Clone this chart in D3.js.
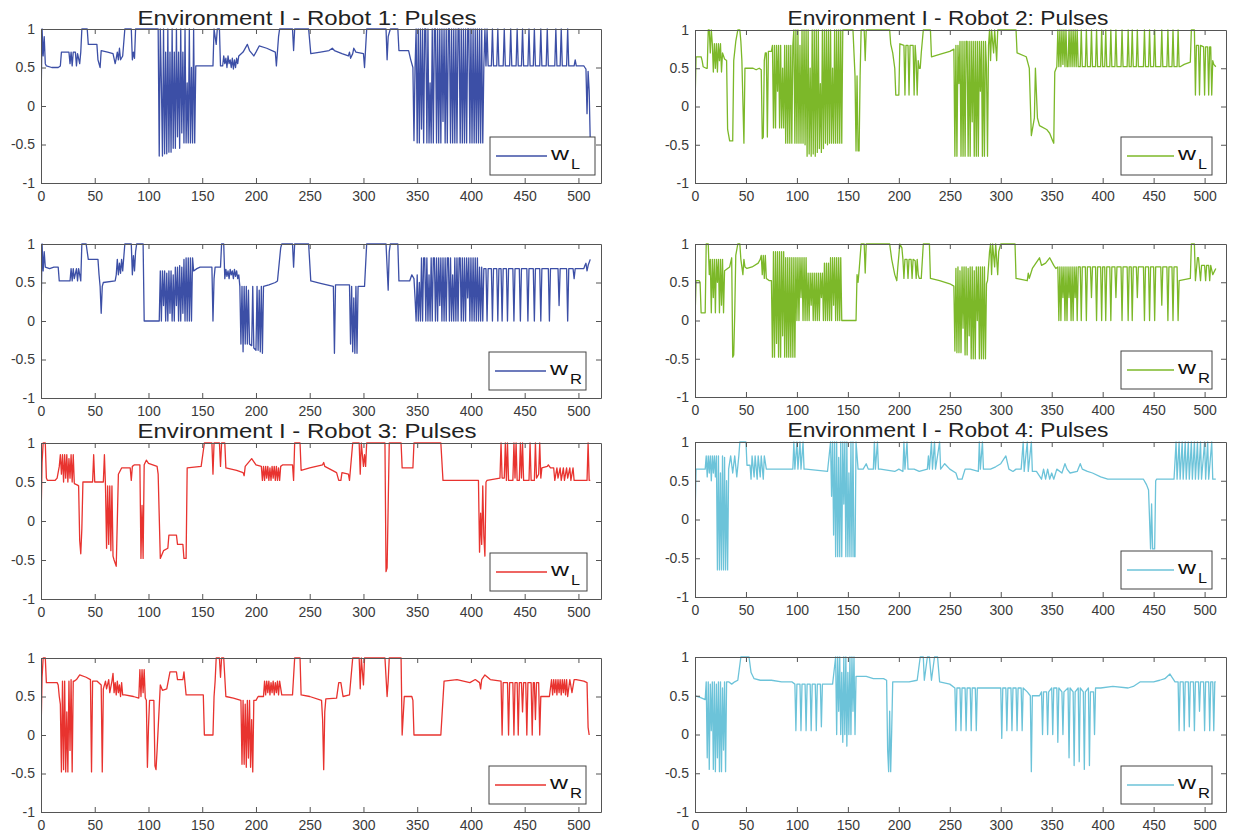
<!DOCTYPE html>
<html>
<head>
<meta charset="utf-8">
<script src="https://cdn.jsdelivr.net/npm/d3@7"></script>
<style>
  body { margin: 0; background: #fff; }
  svg text { font-family: "Liberation Sans", Arial, sans-serif; }
</style>
</head>
<body>
<div id="chart"></div>
<script>
// tick values
const xTicks = [0, 50, 100, 150, 200, 250, 300, 350, 400, 450, 500];
const yTicks = [-1, -0.5, 0, 0.5, 1];
const titles = ["Environment I - Robot 1: Pulses", "Environment I - Robot 2: Pulses",
                "Environment I - Robot 3: Pulses", "Environment I - Robot 4: Pulses"];

// Robot 1, left wheel
const r1L = [[0,0],[1,1],[2,0.65],[3,0.9],[4,0.55],[5,0.52],[10,0.5],[16,0.5],[18,0.52],[19,0.7],[26,0.7],[27,0.55],[28,0.7],[29,0.52],[30,0.7],[32,0.7],[33,0.52],[34,0.68],[36,0.55],[37,0.7],[38,1],[43,1],[44,0.8],[52,0.8],[53,0.6],[55,0.5],[56,0.72],[62,0.7],[67,0.68],[69,0.55],[70,0.62],[71,0.7],[72,0.6],[73,0.75],[74,0.6],[76,0.65],[78,1],[84,1],[85,0.6],[86,0.7],[87,0.62],[88,1],[109,1],
  [110,-0.65],[111,1],[112,0.3],[113,-0.65],[114,1],[115,-0.62],[116,0.7],[117,-0.62],[118,1],[119,-0.6],[120,0.7],[121,-0.6],[122,1],[123,-0.55],[124,0.7],[125,-0.55],[126,1],[127,-0.4],[128,0.7],[129,-0.55],[130,1],[131,-0.35],[132,0.7],[133,-0.48],[134,1],[135,-0.48],[136,0.3],[137,-0.48],[138,1],[139,-0.48],[140,0.5],[141,-0.48],[142,1],[143,-0.48],[144,0.52],[160,0.52],[161,1],[163,0.8],[164,1],[166,1],[167,0.52],[169,0.52],[170,0.65],[171,0.55],[172,0.62],[173,0.5],[174,0.65],[175,0.55],[176,0.6],[177,0.5],[178,0.62],[179,0.48],[180,0.6],[181,0.5],[182,0.62],[183,0.55],[184,0.65],[188,0.7],[192,0.8],[194,0.72],[198,0.65],[200,0.7],[203,0.78],[210,0.75],[218,0.7],[219,0.52],[221,0.9],[222,1],[234,1],[235,0.72],[236,1],[249,1],[251,0.68],[260,0.7],[268,0.72],[271,0.75],[273,0.72],[280,0.68],[286,0.65],[287,0.7],[288,0.62],[290,0.68],[291,0.75],[293,0.7],[300,0.68],[301,0.5],[303,1],[321,1],[322,0.6],[323,0.9],[325,1],[332,1],[333,0.72],[342,0.72],[344,0.6],[346,0.5],[347,-0.45],[348,0.5],
  [349,1],[350,-0.48],[351,1],[352,-0.48],[353,1],[354,-0.3],[355,1],[356,-0.48],[357,1],[358,1],[359,-0.48],[360,1],[361,-0.48],[362,0.3],[363,-0.48],[364,1],[365,-0.48],[366,1],[367,1],[368,-0.48],[369,1],[370,-0.48],[371,1],[372,-0.48],[373,1],[374,-0.2],[375,1],[376,-0.48],[377,1],[378,-0.48],[379,1],[380,1],[381,-0.48],[382,1],[383,-0.48],[384,1],[385,-0.48],[386,1],[387,-0.48],[388,1],[389,1],[390,-0.48],[391,1],[392,-0.48],[393,1],[394,-0.48],[395,1],[396,-0.48],[397,1],[398,1],[399,-0.48],[400,1],[401,-0.48],[402,1],[403,-0.48],[404,1],[405,-0.48],[406,1],[407,-0.48],[408,1],[409,-0.48],[410,1],[411,-0.48],[412,0.52],
  [413,1],[414,0.52],[415,1],[416,0.52],[419,0.52],[420,1],[421,0.52],[424,0.52],[425,1],[426,0.52],[430,0.52],[431,1],[432,0.52],[436,0.52],[437,1],[438,0.52],[442,0.52],[443,1],[444,0.52],[447,0.52],[448,1],[449,0.52],[453,0.52],[454,1],[455,0.52],[458,0.52],[459,1],[460,0.52],[464,0.52],[465,1],[466,0.52],[470,0.52],[471,1],[472,0.52],[478,0.52],[479,1],[480,0.52],[483,0.52],[484,1],[485,0.52],[489,0.52],[490,1],[491,0.52],[496,0.52],[497,0.6],[498,0.52],[505,0.52],[506,0.5],[507,0.48],[508,-0.1],[509,0.45],[510,0.2],[511,-0.45]];

// Robot 1, right wheel
const r1R = [[0,0],[1,1],[2,0.65],[3,0.9],[4,0.7],[8,0.68],[12,0.7],[16,0.7],[17,0.52],[27,0.52],[28,0.68],[29,0.52],[30,0.68],[31,0.55],[33,0.68],[34,0.52],[35,0.68],[37,0.52],[38,1],[42,1],[44,0.8],[53,0.8],[54,0.6],[55,0.45],[56,0.1],[57,0.45],[58,0.5],[69,0.52],[70,0.6],[71,0.8],[72,0.6],[73,0.75],[74,0.62],[75,0.8],[76,0.65],[78,1],[84,1],[85,0.6],[86,0.85],[87,0.65],[88,0.9],[89,1],[95,1],[96,0],[110,0],
  [111,0.65],[112,0],[113,0.65],[114,0.2],[115,0.65],[116,0],[117,0.62],[118,0],[119,0.65],[120,0.1],[121,0.65],[122,0],[123,0.6],[124,0],[125,0.7],[126,0.2],[127,0.7],[128,0],[129,0.72],[130,0],[131,0.7],[132,0.1],[133,0.8],[134,0],[135,0.82],[136,0],[137,0.82],[138,0],[139,0.82],[140,0],[141,0.82],[142,0.65],[145,0.68],[148,0.7],[159,0.7],[160,0],[161,0.55],[162,0.7],[167,0.7],[168,1],[170,1],[171,0.55],[172,0.67],[173,0.58],[174,0.65],[175,0.55],[176,0.67],[177,0.6],[178,0.65],[179,0.55],[180,0.67],[181,0.58],[182,0.65],[183,0.55],[184,0.6],[185,0.45],[186,-0.3],[187,0.45],[188,-0.4],[189,0.45],[190,-0.3],[191,0.45],[192,-0.3],[193,0.4],[194,-0.3],[196,-0.32],[197,0.45],[198,-0.35],[200,-0.38],[201,0.45],[202,-0.38],[203,0.4],[204,-0.4],[205,0.45],[206,-0.42],[207,0.45],[212,0.47],[218,0.5],[220,0.52],[223,0.95],[224,1],[234,1],[235,0.7],[236,1],[249,1],[251,0.52],[260,0.49],[272,0.45],[273,-0.42],[274,0.47],[287,0.47],[288,-0.3],[289,0.45],[290,-0.4],[291,0.3],[292,-0.42],[293,0.45],[294,-0.42],[295,0.45],[301,0.45],[303,1],[321,1],[323,0.4],[324,0.9],[325,1],[332,1],[333,0.52],[343,0.52],[345,0.6],[347,0.55],[348,0.3],[349,0],
  [350,0.6],[351,0],[352,0.5],[353,0],[354,0.82],[355,0],[356,0.82],[357,0.82],[358,0],[359,0.82],[360,0],[361,0.6],[362,0],[363,0.82],[364,0],[365,0.82],[366,0.82],[367,0],[368,0.82],[369,0],[370,0.82],[371,0.2],[372,0.82],[373,0],[374,0.82],[375,0],[376,0.82],[377,0],[378,0.82],[379,0.82],[380,0],[381,0.82],[382,0],[383,0.6],[384,0],[385,0.82],[386,0],[387,0.82],[388,0],[389,0.82],[390,0.82],[391,0],[392,0.82],[393,0],[394,0.82],[395,0],[396,0.82],[397,0.3],[398,0.82],[399,0],[400,0.82],[401,0],[402,0.82],[403,0],[404,0.82],[405,0],[406,0.82],[407,0],[408,0.7],[409,0],[410,0.7],[411,0],[412,0.68],
  [414,0.68],[415,0],[416,0.68],[419,0.68],[420,0],[421,0.68],[424,0.68],[425,0],[426,0.68],[428,0.68],[429,0],[430,0.68],[433,0.68],[434,0],[435,0.68],[439,0.68],[440,0],[441,0.68],[445,0.68],[446,0],[447,0.68],[452,0.68],[453,0],[454,0.68],[458,0.68],[459,0],[460,0.68],[464,0.68],[465,0],[466,0.68],[472,0.68],[473,0],[474,0.68],[481,0.68],[482,0.2],[483,0.68],[489,0.68],[490,0],[491,0.68],[495,0.68],[496,0.55],[497,0.68],[505,0.68],[506,0.72],[507,0.75],[508,0.65],[509,0.72],[511,0.8]];

// Robot 2, left wheel
const r2L = [[0,0],[1,0.65],[6,0.65],[7,0.6],[8,0.52],[11,0.5],[12,0.5],[13,1],[14,1],[15,0.7],[16,1],[17,0.82],[18,0.45],[19,0.82],[20,0.5],[21,0.82],[22,0.45],[23,0.82],[24,0.6],[25,0.82],[26,0.45],[27,0.7],[29,0.62],[31,0.6],[32,-0.3],[34,-0.45],[37,-0.45],[38,0.6],[40,0.85],[42,1],[44,1],[45,0.85],[46,0.6],[48,-0.48],[49,0.5],[50,0.5],[57,0.5],[60,0.48],[63,0.5],[65,0.48],[66,-0.42],[67,-0.4],[68,0.6],[69,0.7],[70,0.7],[71,-0.4],[72,0.72],[75,0.72],[76,0.8],
  [77,-0.28],[78,0.8],[79,-0.28],[80,0.8],[81,0.2],[82,0.8],[83,-0.28],[84,0.8],[85,-0.28],[86,0.5],[87,-0.28],[88,0.8],[89,-0.48],[90,0.8],[91,-0.48],[92,0.8],[93,-0.48],[94,0.8],[95,-0.48],[96,0.8],[97,1],
  [98,-0.48],[99,1],[100,-0.48],[101,1],[102,-0.48],[103,0.8],[104,-0.48],[105,1],[106,-0.48],[107,1],[108,-0.5],[109,1],[110,-0.65],[111,1],[112,-0.62],[113,0.5],[114,-0.65],[115,1],[116,-0.62],[117,1],[118,-0.65],[119,1],[120,-0.6],[121,1],[122,-0.55],[123,0.3],[124,-0.6],[125,1],[126,-0.55],[127,1],[128,-0.48],[129,1],[130,-0.5],[131,1],[132,-0.48],[133,1],[134,-0.48],[135,0.5],[136,-0.48],[137,1],[138,-0.48],[139,1],[140,-0.48],[141,1],[142,-0.48],[143,1],[144,-0.48],[145,1],[155,1],[156,0.7],[157,0.4],[158,-0.58],[159,0.4],[160,-0.58],[161,-0.58],[162,0.4],[163,1],[166,1],[167,0.6],[168,1],[191,1],[192,0.82],[194,0.7],[196,0.5],[197,0.15],[200,0.15],[201,0.82],[205,0.8],[206,0.15],[207,0.8],[209,0.8],[210,0.15],[211,0.8],[214,0.8],[215,0.15],[216,0.8],[217,0.6],[218,0.15],[219,0.6],[220,0.5],[221,0.5],[222,0.7],[224,1],[231,1],[232,0.65],[240,0.68],[250,0.72],[254,0.75],
  [255,-0.65],[256,0.8],[257,-0.65],[258,0.8],[259,0.3],[260,0.85],[261,-0.65],[262,0.85],[263,-0.65],[264,0.85],[265,-0.65],[266,0.85],[267,0.85],[268,-0.65],[269,0.85],[270,-0.65],[271,0.85],[272,-0.2],[273,0.85],[274,-0.65],[275,0.85],[276,-0.65],[277,0.85],[278,-0.65],[279,0.85],[280,0.2],[281,0.85],[282,-0.65],[283,0.85],[284,-0.65],[285,0.85],[286,0.5],[287,-0.65],[288,0.8],[289,1],[290,0.6],[291,1],[293,0.7],[294,1],[296,0.6],[297,1],[302,1],[315,1],[316,0.7],[325,0.65],[327,0.55],[328,0.5],[330,-0.38],[333,-0.15],[334,0.5],[336,-0.15],[338,-0.25],[345,-0.3],[348,-0.35],[351,-0.45],[352,-0.48],[353,0.45],[355,0.52],
  [356,1],[357,0.52],[358,1],[359,0.52],[360,1],[361,0.55],[362,1],[363,0.52],[364,1],[365,0.52],[366,0.52],[367,1],[368,0.52],[369,1],[370,0.52],[371,1],[372,0.52],[373,1],[374,0.52],[375,1],[376,0.52],[378,0.52],[379,1],[380,0.52],[383,0.52],[384,1],[385,0.52],[388,0.52],[389,1],[390,0.52],[393,0.52],[394,1],[395,0.52],[398,0.52],[399,1],[400,0.52],[402,0.52],[403,1],[404,0.52],[407,0.52],[408,1],[409,0.52],[412,0.52],[413,1],[414,0.52],[418,0.52],[419,1],[420,0.52],[424,0.52],[425,1],[426,0.52],[428,0.52],[429,1],[430,0.52],[433,0.52],[434,1],[435,0.52],[440,0.52],[441,1],[442,0.52],[445,0.52],[446,1],[447,0.52],[450,0.52],[451,1],[452,0.52],[457,0.52],[458,1],[459,0.52],[463,0.52],[464,1],[465,0.52],[468,0.52],[469,1],[470,0.52],[473,0.52],[474,1],[475,0.52],[476,0.52],[480,0.55],[486,0.58],[487,1],[490,1],[491,0.15],[492,0.8],[494,0.8],[495,0.15],[496,0.8],[499,0.78],[500,0.15],[501,0.78],[503,0.78],[504,0.15],[505,0.78],[506,0.78],[507,0.15],[508,0.6],[509,0.55],[511,0.52]];

// Robot 2, right wheel
const r2R = [[0,0],[1,0.52],[4,0.52],[5,0.5],[6,0.1],[10,0.1],[11,1],[13,1],[14,0.6],[15,0.8],[16,0.1],[17,0.8],[18,0.3],[19,0.8],[20,0.1],[21,0.8],[22,0.5],[23,0.8],[24,0.1],[25,0.8],[26,0.2],[27,0.8],[28,0.1],[29,0.65],[32,0.68],[34,0.7],[36,0.82],[37,-0.48],[38,-0.45],[39,0.1],[40,0.85],[42,1],[44,1],[45,0.8],[47,0.6],[48,0.8],[49,0.7],[51,0.68],[56,0.7],[62,0.75],[64,0.8],[65,0.85],[66,0.6],[67,0.85],[68,0.55],[69,0.85],[70,0.55],[73,0.52],[75,0.52],
  [76,-0.48],[77,0.9],[78,-0.48],[79,0.9],[80,-0.3],[81,0.9],[82,-0.48],[83,0.9],[84,-0.48],[85,0.9],[86,-0.2],[87,0.9],[88,-0.48],[89,0.82],[90,-0.48],[91,0.82],[92,-0.48],[93,0.82],[94,-0.48],[95,0.82],[96,-0.48],[97,0.82],[98,-0.48],[99,0.82],
  [100,0],[101,0.82],[102,0],[103,0.82],[104,0.3],[105,0.82],[106,0],[107,0.82],[108,0],[109,0.82],[110,0],[111,0.62],[112,0],[113,0.62],[114,0.2],[115,0.62],[116,0],[117,0.62],[118,0],[119,0.62],[120,0],[121,0.62],[122,0],[123,0.62],[124,0.3],[125,0.62],[126,0],[127,0.75],[128,0],[129,0.75],[130,0],[131,0.75],[132,0],[133,0.82],[134,0],[135,0.82],[136,0.2],[137,0.82],[138,0],[139,0.82],[140,0],[141,0.82],[142,0],[143,0.82],[144,0],[158,0],[159,0.6],[160,0.5],[161,0.65],[163,1],[166,1],[167,0.62],[168,1],[191,1],[193,0.8],[196,0.6],[198,0.52],[199,0.7],[201,1],[203,0.95],[204,0.8],[205,0.55],[206,0.8],[208,0.8],[209,0.55],[210,0.8],[212,0.8],[213,0.55],[214,0.8],[216,0.78],[217,0.55],[218,0.8],[219,0.6],[220,0.55],[222,0.55],[224,1],[230,1],[231,0.55],[240,0.52],[250,0.48],[254,0.45],
  [255,-0.4],[256,0.68],[257,-0.42],[258,0.7],[259,-0.42],[260,0.65],[261,-0.42],[262,0.7],[263,-0.1],[264,0.7],[265,-0.45],[266,0.7],[267,-0.45],[268,0.68],[269,-0.2],[270,0.7],[271,-0.5],[272,0.7],[273,-0.5],[274,0.65],[275,-0.5],[276,0.7],[277,0],[278,0.7],[279,-0.5],[280,0.7],[281,-0.5],[282,0.7],[283,-0.5],[284,0.7],[285,-0.5],[286,0.48],[287,0.52],[289,0.9],[290,1],[291,0.6],[292,1],[294,0.7],[295,1],[297,0.6],[298,0.9],[300,1],[302,1],[314,1],[315,0.55],[326,0.52],[327,0.62],[328,0.55],[331,0.68],[338,0.82],[340,0.72],[344,0.75],[348,0.82],[352,0.72],[354,0.68],[356,0.7],
  [357,0],[358,0.7],[359,0],[360,0.7],[361,0.3],[362,0.7],[363,0],[364,0.7],[365,0],[366,0.7],[367,0.3],[368,0.7],[369,0],[370,0.7],[371,0],[372,0.7],[373,0.3],[374,0.7],[375,0],[376,0.7],[378,0.7],[379,0],[380,0.7],[383,0.7],[384,0],[385,0.7],[388,0.7],[389,0.3],[390,0.7],[393,0.7],[394,0],[395,0.7],[398,0.7],[399,0],[400,0.7],[402,0.7],[403,0],[404,0.7],[407,0.7],[408,0],[409,0.7],[412,0.7],[413,0.3],[414,0.7],[418,0.7],[419,0],[420,0.7],[424,0.7],[425,0],[426,0.7],[428,0.7],[429,0],[430,0.7],[433,0.7],[434,0.3],[435,0.7],[440,0.7],[441,0],[442,0.7],[445,0.7],[446,0],[447,0.7],[450,0.7],[451,0],[452,0.7],[457,0.7],[458,0.2],[459,0.7],[463,0.7],[464,0],[465,0.7],[468,0.7],[469,0],[470,0.7],[473,0.7],[474,0],[475,0.52],[486,0.55],[487,1],[490,1],[491,0.52],[493,0.82],[494,0.82],[496,0.52],[497,0.72],[500,0.72],[501,0.52],[502,0.72],[504,0.72],[505,0.52],[506,0.72],[508,0.6],[511,0.68]];

// Robot 3, left wheel
const r3L = [[0,0],[1,0.75],[2,1],[4,1],[5,0.55],[6,0.52],[13,0.52],[15,0.55],[17,0.7],[18,0.85],[19,0.6],[20,0.85],[21,0.5],[22,0.85],[23,0.55],[24,0.85],[25,0.5],[26,0.8],[27,0.55],[28,0.85],[29,0.5],[30,0.85],[31,0.48],[34,0.46],[35,0.45],[36,-0.25],[37,-0.42],[38,-0.1],[39,0.5],[48,0.5],[49,0.85],[50,0.5],[58,0.5],[59,0.85],[60,0.45],[61,-0.35],[62,0.45],[63,-0.3],[64,0.45],[65,-0.38],[66,0.45],[67,-0.45],[68,-0.5],[70,-0.58],[72,0.6],[75,0.68],[83,0.68],[84,0.52],[85,0.7],[87,0.72],[92,0.72],[93,-0.48],[94,0.2],[95,-0.48],[96,0.72],[98,0.78],[100,0.74],[104,0.72],[108,0.7],[109,0.6],[111,-0.48],[114,-0.38],[118,-0.35],[119,-0.18],[126,-0.18],[127,-0.3],[132,-0.3],[133,-0.48],[135,-0.48],[136,0.68],[149,0.7],[152,1],[159,1],[160,0.6],[161,1],[166,1],[167,0.7],[168,1],[171,1],[172,0.68],[182,0.65],[188,0.62],[189,0.58],[190,0.7],[196,0.8],[200,0.72],[205,0.7],[206,0.52],[207,0.7],[208,0.52],[209,0.7],[210,0.55],[211,0.7],[212,0.52],[213,0.68],[214,0.52],[215,0.7],[216,0.55],[217,0.7],[218,0.52],[219,0.7],[220,0.52],[221,0.68],[222,0.52],[223,0.7],[225,0.72],[234,0.72],[235,0.52],[236,1],[241,1],[242,0.65],[250,0.68],[262,0.72],[263,0.75],[264,0.7],[275,0.62],[277,0.52],[279,0.52],[280,0.62],[286,0.6],[287,0.52],[290,1],[296,1],[297,0.6],[298,1],[300,0.7],[301,0.85],[302,0.7],[303,1],[320,1],[321,-0.65],[322,-0.6],[324,1],[335,1],[336,0.68],[346,0.68],[347,1],[372,1],[374,0.52],[407,0.52],[408,-0.4],[409,0.1],[410,-0.3],[411,0.45],[412,-0.2],[413,-0.45],[414,0.5],[415,0.52],[427,0.55],[428,1],[429,0.55],[431,0.55],[432,1],[433,0.52],[434,1],[435,0.52],[439,0.52],[440,1],[441,0.55],[442,1],[443,0.52],[445,0.52],[446,1],[447,0.55],[448,1],[449,0.52],[454,0.52],[455,1],[456,0.52],[459,0.52],[460,1],[461,0.55],[463,0.6],[464,1],[465,0.55],[466,0.68],[471,0.7],[472,0.72],[474,0.68],[477,0.68],[478,0.52],[480,0.68],[481,0.55],[483,0.68],[484,0.52],[486,0.68],[487,0.52],[489,0.68],[490,0.55],[492,0.68],[493,0.52],[495,0.68],[496,0.52],[498,0.52],[508,0.52],[509,1],[510,0.52],[511,0.52]];

// Robot 3, right wheel
const r3R = [[0,0],[1,0.75],[2,1],[4,1],[5,0.68],[15,0.68],[16,0.65],[17,0.5],[18,0.4],[19,-0.48],[20,0.7],[21,-0.45],[22,0.7],[23,-0.48],[24,0.3],[25,-0.48],[26,0.7],[27,-0.2],[28,0.72],[29,-0.48],[30,0.7],[31,0.7],[33,0.72],[36,0.78],[42,0.75],[46,0.72],[47,-0.48],[48,0.7],[52,0.7],[56,0.65],[57,-0.48],[58,0.6],[60,0.7],[61,0.6],[63,0.72],[64,0.55],[66,0.7],[67,0.8],[68,0.55],[69,0.68],[70,0.52],[71,0.7],[72,0.55],[73,0.65],[74,0.5],[75,0.68],[76,0.52],[78,0.52],[86,0.5],[91,0.48],[92,0.85],[93,0.5],[94,0.85],[95,0.55],[96,0.85],[97,0.48],[98,0.45],[99,-0.42],[100,0.1],[101,0.45],[105,0.45],[106,-0.4],[107,-0.45],[108,-0.2],[111,0.65],[113,0.58],[117,0.6],[120,0.82],[126,0.82],[127,0.72],[132,0.72],[133,0.82],[135,0.52],[151,0.52],[152,0],[160,0],[161,0.5],[162,0.7],[163,1],[166,1],[167,0.75],[168,1],[170,1],[172,0.5],[179,0.48],[186,0.45],[187,-0.38],[188,0.45],[189,-0.38],[190,0.4],[191,-0.42],[192,0.45],[193,-0.3],[194,0.45],[195,-0.42],[196,0.2],[197,-0.48],[198,0.45],[200,0.45],[202,0.5],[207,0.5],[208,0.7],[209,0.52],[210,0.7],[211,0.55],[212,0.7],[213,0.52],[214,0.68],[215,0.55],[216,0.7],[217,0.52],[218,0.68],[219,0.55],[220,0.7],[221,0.52],[222,0.7],[224,0.52],[234,0.52],[236,1],[241,1],[242,0.52],[250,0.5],[261,0.45],[262,0.2],[263,-0.45],[264,0.3],[265,0.47],[275,0.48],[277,0.68],[279,0.68],[281,0.5],[287,0.52],[290,1],[296,1],[297,0.6],[298,1],[300,0.65],[301,1],[320,1],[322,0.5],[323,0.7],[324,1],[335,1],[336,0],[338,0.5],[345,0.5],[346,0.45],[347,0],[372,0],[375,0.7],[387,0.72],[399,0.68],[404,0.72],[408,0.68],[409,0.6],[410,0.72],[413,0.78],[418,0.72],[428,0.7],[429,0],[430,0.68],[434,0.68],[435,0],[436,0.68],[439,0.68],[440,0],[441,0.68],[443,0.68],[444,0],[445,0.68],[447,0.68],[448,0.3],[449,0.68],[451,0.68],[452,0],[453,0.68],[456,0.68],[457,0],[458,0.68],[459,0.68],[460,0.2],[461,0.68],[463,0.68],[464,0],[465,0.5],[473,0.5],[475,0.72],[476,0.52],[477,0.72],[478,0.55],[479,0.72],[480,0.52],[481,0.72],[482,0.55],[483,0.72],[484,0.52],[485,0.72],[486,0.55],[487,0.72],[488,0.52],[489,0.72],[490,0.5],[492,0.72],[494,0.55],[496,0.72],[498,0.72],[505,0.7],[508,0.68],[509,0.1],[510,0]];

// Robot 4, left wheel
const r4L = [[0,0],[1,0.65],[10,0.65],[11,0.82],[12,0.55],[13,0.82],[14,0.6],[15,0.82],[16,0.5],[17,0.82],[18,0.6],[19,0.82],[20,0.55],[21,0.82],[22,-0.65],[23,0.82],[24,-0.65],[25,0.6],[26,-0.65],[27,0.82],[28,-0.65],[29,0.8],[30,-0.65],[31,0.5],[32,-0.65],[33,0.65],[35,0.82],[37,0.6],[39,0.82],[41,0.55],[43,0.82],[44,1],[50,1],[51,0.7],[54,0.7],[55,0.52],[56,0.82],[58,0.55],[59,0.82],[61,0.52],[62,0.82],[64,0.55],[65,0.82],[67,0.52],[68,0.82],[70,0.65],[90,0.65],[96,0.65],[97,1],[98,0.65],[100,1],[101,0.65],[103,1],[104,0.65],[106,1],[107,0.65],[109,0.65],[130,0.62],[133,1],[134,0.3],[135,1],[136,-0.2],[137,1],[138,-0.48],[139,1],[140,-0.48],[141,0.8],[142,-0.48],[143,1],[144,-0.48],[145,1],[146,0.2],[147,1],[148,-0.48],[149,1],[150,-0.48],[151,0.6],[152,-0.48],[153,1],[154,-0.48],[155,1],[156,-0.48],[157,-0.48],[158,1],[160,0.65],[165,0.65],[168,0.72],[170,0.65],[175,0.65],[176,1],[177,0.65],[179,1],[180,0.65],[182,0.65],[196,0.62],[200,0.65],[204,0.62],[205,1],[206,0.65],[208,1],[209,0.65],[215,0.65],[220,0.62],[228,0.65],[229,0.82],[230,0.65],[232,1],[233,0.65],[235,1],[236,0.65],[240,1],[241,0.65],[245,0.72],[250,0.65],[256,0.6],[258,0.52],[262,0.52],[265,0.65],[270,0.65],[278,0.62],[279,1],[280,0.65],[282,1],[283,0.65],[286,0.65],[290,0.65],[295,0.68],[300,0.72],[305,0.82],[308,0.65],[312,0.62],[315,0.65],[320,0.65],[322,1],[323,0.62],[326,1],[327,0.62],[330,1],[331,0.62],[335,0.62],[340,0.52],[342,0.65],[344,0.52],[346,0.65],[348,0.52],[350,0.6],[352,0.52],[355,0.65],[360,0.6],[363,0.72],[365,0.65],[368,0.6],[375,0.62],[378,0.72],[380,0.65],[385,0.62],[390,0.6],[398,0.55],[405,0.52],[440,0.52],[443,0.45],[445,0.38],[447,-0.38],[448,0.2],[449,-0.38],[451,-0.38],[452,0.5],[453,0.52],[470,0.52],[472,1],[473,0.52],[475,1],[476,0.52],[478,1],[479,0.52],[481,1],[482,0.52],[484,1],[485,0.52],[487,1],[488,0.52],[490,1],[491,0.52],[493,1],[494,0.52],[496,1],[497,0.52],[500,1],[501,0.52],[503,1],[504,0.52],[507,1],[508,0.52],[511,0.52]];

// Robot 4, right wheel
const r4R = [[0,0.5],[5,0.48],[10,0.45],[11,0.68],[12,-0.3],[13,0.68],[14,-0.45],[15,0.65],[16,0.05],[17,0.68],[18,-0.45],[19,0.68],[20,-0.48],[21,0.65],[22,-0.3],[23,0.68],[24,-0.48],[25,0.68],[26,-0.48],[27,0.6],[28,-0.2],[29,0.68],[30,-0.48],[31,0.68],[33,0.68],[36,0.65],[39,0.68],[42,0.7],[45,1],[53,1],[55,0.8],[58,0.72],[64,0.7],[75,0.7],[85,0.68],[95,0.68],[98,0.65],[99,0.05],[100,0.65],[103,0.65],[104,0.05],[105,0.65],[108,0.65],[109,0.05],[110,0.65],[113,0.65],[114,0.05],[115,0.65],[118,0.65],[119,0.05],[120,0.65],[123,0.65],[124,0.1],[125,0.65],[135,0.65],[138,1],[139,0],[140,1],[141,0.3],[142,1],[143,0],[144,0.8],[145,-0.1],[146,1],[147,0],[148,1],[149,-0.15],[150,0.8],[151,0],[152,1],[153,0],[154,1],[155,0.3],[156,1],[157,0],[158,0.75],[168,0.75],[175,0.72],[185,0.72],[188,0.7],[189,-0.2],[190,-0.48],[191,0.3],[192,-0.48],[193,0.05],[194,0.68],[200,0.68],[210,0.68],[218,0.7],[221,1],[224,1],[225,0.7],[228,1],[230,1],[232,0.7],[235,1],[238,1],[240,0.68],[250,0.65],[255,0.6],[256,0.05],[257,0.6],[260,0.6],[261,0.05],[262,0.6],[265,0.6],[266,0.05],[267,0.6],[270,0.6],[271,0.05],[272,0.6],[275,0.6],[276,0.05],[277,0.6],[290,0.6],[300,0.6],[301,-0.05],[302,0.6],[305,0.6],[306,0.05],[307,0.6],[310,0.6],[311,0.05],[312,0.6],[315,0.6],[316,0.05],[317,0.6],[320,0.6],[321,0.05],[322,0.6],[326,0.55],[329,0.5],[330,-0.48],[331,0.5],[338,0.5],[340,0.55],[341,0],[342,0.55],[345,0.55],[346,0],[347,0.55],[350,0.6],[351,0],[352,0.6],[355,0.6],[356,-0.1],[357,0.6],[360,0.55],[361,0],[362,0.55],[366,0.6],[367,-0.3],[368,0.6],[371,0.55],[372,-0.4],[373,0.55],[376,0.6],[377,-0.35],[378,0.6],[381,0.55],[382,-0.45],[383,0.55],[386,0.6],[387,-0.4],[388,0.55],[391,0.55],[392,0],[393,0.6],[398,0.6],[410,0.62],[425,0.6],[430,0.62],[437,0.68],[450,0.68],[456,0.7],[461,0.72],[466,0.78],[471,0.68],[474,0.68],[475,0.05],[476,0.68],[479,0.68],[480,0.05],[481,0.68],[484,0.68],[485,0.1],[486,0.68],[489,0.68],[490,0.05],[491,0.68],[494,0.68],[495,0.3],[496,0.68],[499,0.68],[500,0.05],[501,0.68],[504,0.68],[505,0.05],[506,0.68],[508,0.68],[509,0.05],[510,0.68],[511,0.68]];

const colors = { r1: "#3c4fa6", r2: "#7cb829", r3: "#e8332f", r4: "#6cc3d9" };

const svgWidth = 1234, svgHeight = 836;
const svg = d3.select("#chart").append("svg")
  .attr("width", svgWidth).attr("height", svgHeight);

// panel boxes (pixel positions of each axes)
const panels = [
  { data: r1L, color: colors.r1, sub: "L", x0: 41,  x1: 601,  y0: 29,  y1: 183, lx: 490,  lw: 105 },
  { data: r1R, color: colors.r1, sub: "R", x0: 41,  x1: 601,  y0: 244, y1: 398, lx: 489,  lw: 97 },
  { data: r3L, color: colors.r3, sub: "L", x0: 41,  x1: 601,  y0: 443, y1: 599, lx: 490,  lw: 97 },
  { data: r3R, color: colors.r3, sub: "R", x0: 41,  x1: 601,  y0: 658, y1: 812, lx: 489,  lw: 97 },
  { data: r2L, color: colors.r2, sub: "L", x0: 695, x1: 1226, y0: 30,  y1: 183, lx: 1121, lw: 91 },
  { data: r2R, color: colors.r2, sub: "R", x0: 695, x1: 1226, y0: 244, y1: 397, lx: 1121, lw: 91 },
  { data: r4L, color: colors.r4, sub: "L", x0: 695, x1: 1226, y0: 442, y1: 597, lx: 1121, lw: 91 },
  { data: r4R, color: colors.r4, sub: "R", x0: 695, x1: 1226, y0: 657, y1: 812, lx: 1121, lw: 91 }
];

const axisColor = "#555";
const labelColor = "#3a3a3a";

panels.forEach((p, i) => {
  const x = d3.scaleLinear().domain([0, 521]).range([p.x0, p.x1]);
  const y = d3.scaleLinear().domain([-1, 1]).range([p.y1, p.y0]);

  const clipId = "clip" + i;
  svg.append("clipPath").attr("id", clipId)
    .append("rect")
    .attr("x", p.x0).attr("y", p.y0 - 1)
    .attr("width", p.x1 - p.x0).attr("height", p.y1 - p.y0 + 2);

  // the signal
  const line = d3.line().x(d => x(d[0])).y(d => y(d[1]));
  svg.append("path")
    .datum(p.data)
    .attr("clip-path", "url(#" + clipId + ")")
    .attr("fill", "none")
    .attr("stroke", p.color)
    .attr("stroke-width", 1.3)
    .attr("stroke-linejoin", "round")
    .attr("d", line);

  // axes, ticks pointing inward like matlab
  const gB = svg.append("g").attr("transform", "translate(0," + p.y1 + ")")
    .call(d3.axisBottom(x).tickValues(xTicks).tickSize(-5).tickSizeOuter(0).tickPadding(8).tickFormat(d => String(d)));
  const gT = svg.append("g").attr("transform", "translate(0," + p.y0 + ")")
    .call(d3.axisTop(x).tickValues(xTicks).tickSize(-5).tickSizeOuter(0).tickFormat(""));
  const gL = svg.append("g").attr("transform", "translate(" + p.x0 + ",0)")
    .call(d3.axisLeft(y).tickValues(yTicks).tickSize(-5).tickSizeOuter(0).tickPadding(6).tickFormat(d => String(d)));
  const gR = svg.append("g").attr("transform", "translate(" + p.x1 + ",0)")
    .call(d3.axisRight(y).tickValues(yTicks).tickSize(-5).tickSizeOuter(0).tickFormat(""));

  [gB, gT, gL, gR].forEach(g => {
    g.select(".domain").attr("stroke", axisColor).attr("stroke-width", 1);
    g.selectAll(".tick line").attr("stroke", axisColor);
    g.selectAll(".tick text").attr("fill", labelColor).style("font-size", "14px");
  });

  // legend
  const lh = 38;
  const ly = p.y1 - 8 - lh;
  const cy = ly + lh / 2;
  const leg = svg.append("g");
  leg.append("rect")
    .attr("x", p.lx).attr("y", ly).attr("width", p.lw).attr("height", lh)
    .attr("fill", "#fff").attr("stroke", "#444").attr("stroke-width", 1);
  leg.append("line")
    .attr("x1", p.lx + 6).attr("x2", p.lx + (p.lw > 95 ? 57 : 53))
    .attr("y1", cy).attr("y2", cy)
    .attr("stroke", p.color).attr("stroke-width", 1.3);
  const tx = p.lx + (p.lw > 95 ? 61 : 57);
  leg.append("text")
    .attr("x", tx).attr("y", cy + 4)
    .attr("textLength", 18).attr("lengthAdjust", "spacingAndGlyphs")
    .style("font-size", "19px").attr("fill", "#111").text("w");
  leg.append("text")
    .attr("x", tx + 20).attr("y", cy + 13)
    .attr("textLength", p.sub === "L" ? 9 : 12).attr("lengthAdjust", "spacingAndGlyphs")
    .style("font-size", "14px").attr("fill", "#111").text(p.sub);
});

// titles above first and third rows
const titlePos = [
  { text: titles[0], cx: 307, y: 25, w: 339 },
  { text: titles[1], cx: 948, y: 25, w: 321 },
  { text: titles[2], cx: 307, y: 438, w: 339 },
  { text: titles[3], cx: 948, y: 437, w: 321 }
];
titlePos.forEach(t => {
  svg.append("text")
    .attr("x", t.cx - t.w / 2).attr("y", t.y)
    .attr("textLength", t.w).attr("lengthAdjust", "spacingAndGlyphs")
    .style("font-size", "20px").attr("fill", "#222")
    .text(t.text);
});
</script>
</body>
</html>
